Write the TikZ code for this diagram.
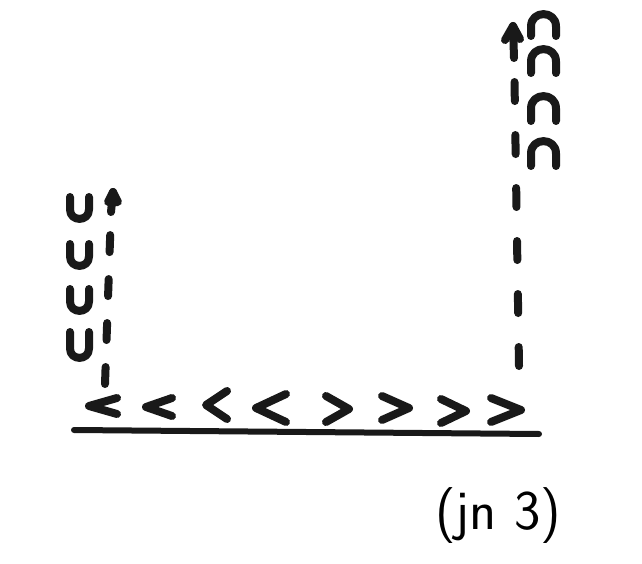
\documentclass[tikz,border=0pt]{standalone}
\usetikzlibrary{arrows.meta}
\tikzset{
  pen/.style={line width=8pt, line cap=round, line join=round, draw=black!90},
  dashpen/.style={pen, dash pattern=on 17pt off 27pt}
}
\begin{document}
\begin{tikzpicture}[x=1pt,y=-1pt]
    \useasboundingbox[fill=white] (0,0) rectangle (642,564);
    % ground
    \coordinate (gl) at (74,430);
    \coordinate (gr) at (539,434);
    \draw[pen, line width=6pt] (gl) -- (gr);
    % chevrons on the ground
    \foreach \x/\y/\w/\h in {89/406/28/8, 146/407/26/9, 206/405/21/14, 256/408/30/14,
                             349/409/-23/13, 409/408/-27/12, 466/411/-25/12, 521/410/-30/12}
        \draw[pen] (\x+\w,\y-\h) -- (\x,\y) -- (\x+\w,\y+\h);
    % left wall
    \coordinate (lbot) at (105,384);
    \coordinate (lneck) at (111,212);
    \coordinate (ltop) at (113,192);
    \draw[dashpen] (lbot) -- (lneck);
    \draw[pen] (lneck) -- (ltop);
    \filldraw[pen, fill=black!90] (ltop) -- ++(-5,10) -- ++(10,0) -- cycle;
    \foreach \t/\b in {197/219, 244/266, 289/311, 332/358}
        \draw[pen] (70,\t) -- (70,\b-9.5) .. controls (70,\b+3) and (89,\b+3) .. (89,\b-9.5) -- (89,\t);
    % right wall
    \coordinate (rbot) at (519,366);
    \coordinate (rmid) at (514.5,81);
    \coordinate (rneck) at (514,58);
    \coordinate (rtop) at (513,26);
    \draw[dashpen, dash pattern=on 19pt off 34pt] (rbot) -- (rmid);
    \draw[pen] (rneck) -- (rtop);
    \draw[pen] (505,40) -- (rtop) -- (520,39);
    \foreach \t/\b in {14/36, 49/73, 96/121, 141/166}
        \draw[pen] (531,\b) -- (531,\t+12.5) .. controls (531,\t-4) and (556,\t-4) .. (556,\t+12.5) -- (556,\b);
    % caption
    \node[font=\sffamily\fontsize{56}{56}\selectfont] (cap) at (498,516) {(jn 3)};
\end{tikzpicture}
\end{document}
